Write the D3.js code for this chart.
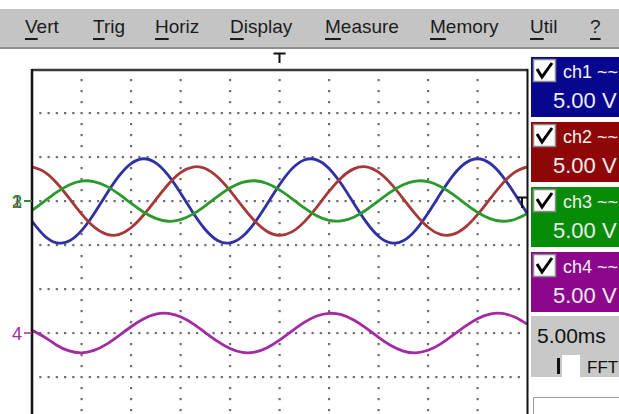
<!DOCTYPE html>
<html>
<head>
<meta charset="utf-8">
<script src="https://cdn.jsdelivr.net/npm/d3@7"></script>
<style>
  body { margin: 0; background: #fff; }
  svg { display: block; font-family: "Liberation Sans", Arial, sans-serif; }
</style>
</head>
<body>
<div id="scope"></div>
<script>
// menu labels
var menuItems = ["Vert", "Trig", "Horiz", "Display", "Measure", "Memory", "Util", "?"];

// sample times (ms), 5 ms/div, 10 divisions
var timeMs = [0, 1.25, 2.5, 3.75, 5, 6.25, 7.5, 8.75, 10, 11.25, 12.5, 13.75, 15, 16.25, 17.5, 18.75,
  20, 21.25, 22.5, 23.75, 25, 26.25, 27.5, 28.75, 30, 31.25, 32.5, 33.75, 35, 36.25, 37.5, 38.75,
  40, 41.25, 42.5, 43.75, 45, 46.25, 47.5, 48.75, 50];

// trace values in volts (relative to each channel's offset)
var ch1 = [-2.30, -3.94, -4.75, -4.55, -3.37, -1.47, 0.74, 2.79, 4.25, 4.80, 4.33, 2.93, 0.91, -1.30,
  -3.24, -4.49, -4.77, -4.04, -2.45, -0.34, 1.85, 3.65, 4.66, 4.68, 3.70, 1.93, -0.25, -2.37, -4.00,
  -4.76, -4.52, -3.31, -1.39, 0.82, 2.86, 4.29, 4.80, 4.29, 2.86, 0.82, -1.39];
var ch2 = [3.88, 3.31, 2.04, 0.32, -1.46, -2.93, -3.77, -3.81, -3.04, -1.62, 0.15, 1.88, 3.22, 3.86,
  3.69, 2.72, 1.18, -0.62, -2.28, -3.46, -3.90, -3.51, -2.37, -0.72, 1.08, 2.65, 3.65, 3.88, 3.27,
  1.97, 0.25, -1.52, -2.98, -3.79, -3.80, -3.00, -1.55, 0.22, 1.95, 3.26, 3.87];
var ch3 = [-1.06, -0.03, 1.00, 1.83, 2.26, 2.21, 1.69, 0.81, -0.25, -1.25, -1.98, -2.30, -2.12, -1.49,
  -0.54, 0.52, 1.47, 2.11, 2.30, 1.99, 1.27, 0.27, -0.79, -1.67, -2.20, -2.26, -1.84, -1.02, 0.01,
  1.04, 1.85, 2.27, 2.20, 1.66, 0.77, -0.29, -1.28, -2.00, -2.30, -2.10, -1.45];
var ch4 = [0.30, -0.45, -1.39, -2.04, -2.25, -1.98, -1.29, -0.32, 0.71, 1.60, 2.14, 2.23, 1.84, 1.06,
  0.05, -0.96, -1.77, -2.21, -2.17, -1.67, -0.81, 0.22, 1.20, 1.93, 2.24, 2.08, 1.47, 0.55, -0.49,
  -1.42, -2.05, -2.25, -1.96, -1.26, -0.28, 0.75, 1.62, 2.15, 2.22, 1.81, 1.02];

var channelNames = ["ch1", "ch2", "ch3", "ch4"];
var channelOffsetDiv = [1, 1, 1, -2];
var voltsPerDiv = [5, 5, 5, 5];
var scaleLabels = ["5.00 V", "5.00 V", "5.00 V", "5.00 V"];
var timebaseLabel = "5.00ms";

var traceColors = ["#2f2fa6", "#a63838", "#2a9a2a", "#a42aa4"];
var boxColors = ["#06068f", "#8f0606", "#078c07", "#8c078c"];

var width = 619, height = 414;

var svg = d3.select("#scope").append("svg")
  .attr("width", width)
  .attr("height", height);

svg.append("rect").attr("width", width).attr("height", height).attr("fill", "#fff");

// ---- menu bar
svg.append("rect").attr("x", 0).attr("y", 9).attr("width", width).attr("height", 38).attr("fill", "#c4c4c4");
svg.append("rect").attr("x", 0).attr("y", 47).attr("width", width).attr("height", 2).attr("fill", "#8e8e8e");

var menuX = [25, 93, 155, 230, 325, 430, 530, 590];
menuItems.forEach(function(label, i) {
  svg.append("text")
    .attr("x", menuX[i]).attr("y", 33)
    .attr("font-size", 19).attr("fill", "#1c1c1c")
    .text(label);
  var probe = svg.append("text").attr("font-size", 19).text(label.charAt(0));
  var w = probe.node().getComputedTextLength();
  probe.remove();
  svg.append("rect").attr("x", menuX[i]).attr("y", 38).attr("width", w).attr("height", 2).attr("fill", "#1c1c1c");
});

// ---- scales
var x = d3.scaleLinear().domain([0, 50]).range([32, 527]);
var y = d3.scaleLinear().domain([-4, 4]).range([421, 69]);

// ---- grid dots
var grid = svg.append("g").attr("fill", "#6e6e6e");
d3.range(-3, 4).forEach(function(d) {
  d3.range(1, 60).forEach(function(k) {
    grid.append("rect").attr("x", x(k * 5 / 6) - 1).attr("y", y(d) - 1).attr("width", 2.2).attr("height", 2.2);
  });
});
d3.range(1, 10).forEach(function(j) {
  d3.range(1, 32).forEach(function(m) {
    var v = 4 - m * 0.25;
    if (Number.isInteger(v)) return;
    grid.append("rect").attr("x", x(j * 5) - 1).attr("y", y(v) - 1).attr("width", 2.2).attr("height", 2.2);
  });
});

// ---- traces
svg.append("clipPath").attr("id", "plotclip")
  .append("rect").attr("x", 32).attr("y", 69).attr("width", 495).attr("height", 360);

[ch1, ch2, ch3, ch4].forEach(function(series, c) {
  var line = d3.line()
    .x(function(d, i) { return x(timeMs[i]); })
    .y(function(d) { return y(d / voltsPerDiv[c] + channelOffsetDiv[c]); })
    .curve(d3.curveNatural);
  svg.append("path")
    .datum(series)
    .attr("clip-path", "url(#plotclip)")
    .attr("fill", "none")
    .attr("stroke", traceColors[c])
    .attr("stroke-width", 2.8)
    .attr("d", line);
});

// ---- frame
svg.append("line").attr("x1", 32).attr("x2", 528).attr("y1", 70).attr("y2", 70)
  .attr("stroke", "#3a3a3a").attr("stroke-width", 2.5);
svg.append("line").attr("x1", 32).attr("x2", 32).attr("y1", 69).attr("y2", height)
  .attr("stroke", "#111").attr("stroke-width", 2.5);
svg.append("line").attr("x1", 527.5).attr("x2", 527.5).attr("y1", 69).attr("y2", height)
  .attr("stroke", "#111").attr("stroke-width", 2);

// ---- channel ground markers on the left
[0, 1, 2, 3].forEach(function(c) {
  var yy = y(channelOffsetDiv[c]);
  svg.append("text").attr("x", 12).attr("y", yy + 7)
    .attr("font-size", 18).attr("fill", traceColors[c])
    .text(channelNames[c].slice(2));
  svg.append("line").attr("x1", 24).attr("x2", 32).attr("y1", yy).attr("y2", yy)
    .attr("stroke", traceColors[c]).attr("stroke-width", 1.5);
});

// ---- trigger markers
svg.append("path")
  .attr("d", "M" + (x(25) - 6) + ",53.5H" + (x(25) + 6) + "M" + x(25) + ",53.5V63")
  .attr("stroke", "#111").attr("stroke-width", 2).attr("fill", "none");
svg.append("path")
  .attr("d", "M517,197.5H527M522,197.5V208")
  .attr("stroke", "#111").attr("stroke-width", 2).attr("fill", "none");

// ---- channel boxes on the right
channelNames.forEach(function(name, c) {
  var top = 57 + c * 65;
  var g = svg.append("g");
  g.append("rect").attr("x", 531).attr("y", top).attr("width", 90).attr("height", 60).attr("fill", boxColors[c]);
  g.append("rect").attr("x", 533.5).attr("y", top + 2.5).attr("width", 22).attr("height", 22)
    .attr("fill", "#fff").attr("stroke", "#8a8a8a").attr("stroke-width", 1.5);
  g.append("path")
    .attr("d", "M537," + (top + 12) + "L542," + (top + 20) + "L552," + (top + 6))
    .attr("fill", "none").attr("stroke", "#000").attr("stroke-width", 3);
  g.append("text").attr("x", 563).attr("y", top + 21)
    .attr("font-size", 18).attr("fill", "#f2f2f2")
    .text(name + " ~~");
  g.append("text").attr("x", 553).attr("y", top + 51)
    .attr("font-size", 22).attr("fill", "#eeeeee")
    .text(scaleLabels[c]);
});

// ---- timebase and FFT
svg.append("rect").attr("x", 531).attr("y", 316).attr("width", 90).attr("height", 61).attr("fill", "#c8c8c8");
svg.append("text").attr("x", 537).attr("y", 343).attr("font-size", 21).attr("fill", "#111").text(timebaseLabel);
svg.append("rect").attr("x", 557).attr("y", 358).attr("width", 3).attr("height", 16).attr("fill", "#111");
svg.append("rect").attr("x", 562).attr("y", 355).attr("width", 18).attr("height", 22).attr("fill", "#fff");
svg.append("text").attr("x", 587).attr("y", 373).attr("font-size", 17).attr("fill", "#111").text("FFT");

svg.append("path").attr("d", "M533.5," + height + "V397.5H" + width)
  .attr("fill", "none").attr("stroke", "#9a9a9a").attr("stroke-width", 1);
</script>
</body>
</html>
